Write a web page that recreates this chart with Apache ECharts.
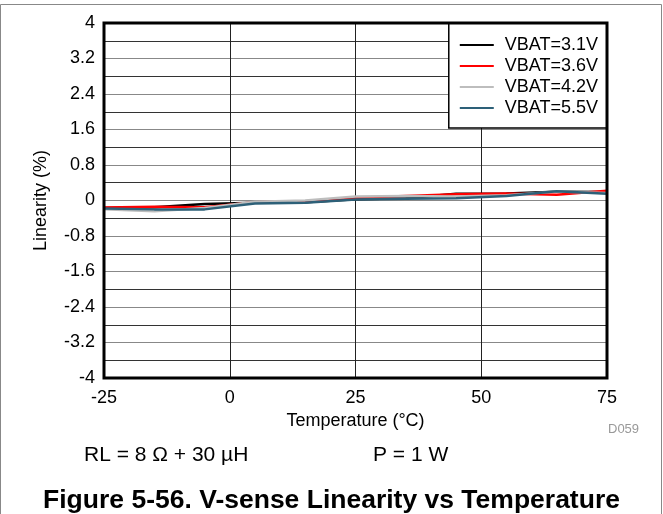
<!DOCTYPE html>
<html>
<head>
<meta charset="utf-8">
<script src="https://cdn.jsdelivr.net/npm/echarts@6/dist/echarts.min.js"></script>
<style>
  html, body { margin: 0; padding: 0; background: #fff; }
  #chart { width: 663px; height: 514px; }
</style>
</head>
<body>
<div id="chart"></div>
<script>
// temperature points (°C)
var temps = [-25, -15, -5, 5, 15, 25, 35, 45, 55, 65, 75];
// linearity (%) per supply voltage
var vbat31 = [-0.17, -0.15, -0.08, -0.05, -0.04, 0.03, 0.05, 0.15, 0.16, 0.20, 0.19];
var vbat36 = [-0.16, -0.14, -0.15, -0.04, -0.02, 0.06, 0.10, 0.14, 0.16, 0.13, 0.22];
var vbat42 = [-0.20, -0.24, -0.17, -0.03, 0.00, 0.09, 0.10, 0.09, 0.12, 0.20, 0.17];
var vbat55 = [-0.18, -0.20, -0.20, -0.07, -0.05, 0.02, 0.04, 0.05, 0.10, 0.21, 0.15];
var seriesNames = ['VBAT=3.1V', 'VBAT=3.6V', 'VBAT=4.2V', 'VBAT=5.5V'];
var seriesColors = ['#000000', '#ff0000', '#bdbdbd', '#2d6078'];

function pairs(ys) {
  return temps.map(function (t, i) { return [t, ys[i]]; });
}

var allData = [vbat31, vbat36, vbat42, vbat55];
var series = allData.map(function (ys, i) {
  return {
    name: seriesNames[i],
    type: 'line',
    data: pairs(ys),
    symbol: 'none',
    lineStyle: { color: seriesColors[i], width: 2.5 },
    itemStyle: { color: seriesColors[i] },
    z: 3
  };
});

var font = 'Liberation Sans, Arial, sans-serif';

var option = {
  animation: false,
  backgroundColor: '#fff',
  textStyle: { fontFamily: font },
  grid: { left: 104, right: 56, top: 23, bottom: 136 },
  legend: {
    orient: 'vertical',
    right: 56,
    top: 23,
    icon: 'rect',
    itemWidth: 34,
    itemHeight: 2,
    itemGap: 3,
    padding: [13, 9, 11, 11],
    backgroundColor: '#fff',
    borderColor: '#000',
    borderWidth: 1.5,
    textStyle: { fontSize: 18, color: '#000', fontFamily: font, padding: [0, 0, 0, 6] },
    data: seriesNames
  },
  xAxis: {
    type: 'value',
    min: -25,
    max: 75,
    interval: 25,
    name: 'Temperature (°C)',
    nameLocation: 'middle',
    nameGap: 33,
    nameTextStyle: { fontSize: 18, color: '#000', fontFamily: font },
    axisLine: { show: false },
    axisTick: { show: false },
    axisLabel: { fontSize: 18, color: '#000', margin: 11 },
    splitLine: { show: true, lineStyle: { color: '#222', width: 1 } }
  },
  yAxis: {
    type: 'value',
    min: -4,
    max: 4,
    interval: 0.4,
    name: 'Linearity (%)',
    nameLocation: 'middle',
    nameGap: 54,
    nameTextStyle: { fontSize: 18, color: '#000', fontFamily: font },
    axisLine: { show: false },
    axisTick: { show: false },
    axisLabel: {
      fontSize: 18,
      color: '#000',
      margin: 9,
      formatter: function (v) {
        var k = Math.round(v / 0.4);
        if (k % 2 !== 0) return '';
        var r = Math.round(v * 10) / 10;
        return String(r);
      }
    },
    splitLine: { show: true, lineStyle: { color: ['#888', '#333'], width: 1.2 } }
  },
  graphic: [
    { type: 'rect', shape: { x: 0.5, y: 4.5, width: 661, height: 520 },
      style: { fill: 'none', stroke: '#888', lineWidth: 1 }, silent: true },
    { type: 'rect', shape: { x: 104, y: 23, width: 503, height: 355 },
      style: { fill: 'none', stroke: '#000', lineWidth: 3 }, z: 10, silent: true },
    { type: 'text', left: 608, top: 423,
      style: { text: 'D059', fill: '#999', font: '13px ' + font } },
    { type: 'text', left: 84, top: 445,
      style: { text: 'RL = 8 Ω + 30 µH', fill: '#000', font: '21px ' + font } },
    { type: 'text', left: 373, top: 445,
      style: { text: 'P = 1 W', fill: '#000', font: '21px ' + font } },
    { type: 'text', left: 'center', top: 487,
      style: { text: 'Figure 5-56. V-sense Linearity vs Temperature', fill: '#000', font: 'bold 26.5px ' + font } }
  ],
  series: series
};

var chart = echarts.init(document.getElementById('chart'));
chart.setOption(option);
</script>
</body>
</html>
